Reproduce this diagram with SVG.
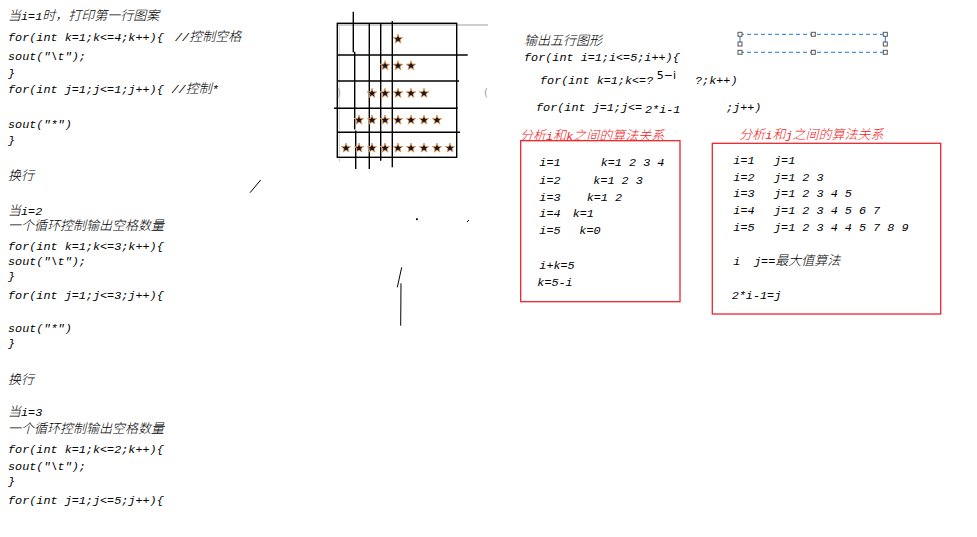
<svg xmlns="http://www.w3.org/2000/svg" width="977" height="537" viewBox="0 0 977 537">
<style>
text{font-family:"Liberation Mono","Noto Sans CJK SC",monospace;font-style:italic;font-size:11.8px;fill:#000}
.c{font-size:13px;font-weight:300}
.a{font-size:11.8px;font-weight:400}
.red{fill:#f01818}
.up{font-family:"DejaVu Sans",sans-serif;font-style:normal;font-size:11px}
.g{fill:#999;font-style:normal;font-family:"DejaVu Sans",sans-serif;font-size:10px}
.ln{stroke:#000;stroke-width:1.4;fill:none}
.box{stroke:#e8262e;stroke-width:1.3;fill:none}
.hd{fill:#fff;stroke:#555;stroke-width:1}
.mk{stroke:#000;stroke-width:1;fill:none}
</style>
<defs>
<polygon id="st" points="0,-5 1.2,-1.6 4.8,-1.5 2,0.7 3,4.1 0,2.1 -3,4.1 -2,0.7 -4.8,-1.5 -1.2,-1.6" fill="#15151f" stroke="#e8a060" stroke-width="0.9" stroke-linejoin="round"/>
</defs>
<rect width="977" height="537" fill="#fff"/>

<g id="left-notes">
<text x="8" y="19.5" class="c">当<tspan class="a">i=1</tspan>时，打印第一行图案</text>
<text x="8" y="40.5">for(int k=1;k&lt;=4;k++){</text>
<text x="175" y="40.5" class="c"><tspan class="a">//</tspan>控制空格</text>
<text x="8" y="60">sout("\t");</text>
<text x="8" y="76.5">}</text>
<text x="8" y="92.5">for(int j=1;j&lt;=1;j++){</text>
<text x="171.5" y="92.5" class="c"><tspan class="a">//</tspan>控制<tspan class="a">*</tspan></text>
<text x="8" y="128">sout("*")</text>
<text x="8" y="143.5">}</text>
<text x="8" y="180" class="c">换行</text>

<text x="8" y="214.5" class="c">当<tspan class="a">i=2</tspan></text>
<text x="8" y="229.5" class="c">一个循环控制输出空格数量</text>
<text x="8" y="250">for(int k=1;k&lt;=3;k++){</text>
<text x="8" y="265">sout("\t");</text>
<text x="8" y="280">}</text>
<text x="8" y="298.5">for(int j=1;j&lt;=3;j++){</text>
<text x="8" y="332">sout("*")</text>
<text x="8" y="347">}</text>

<text x="8" y="383.5" class="c">换行</text>
<text x="8" y="416" class="c">当<tspan class="a">i=3</tspan></text>
<text x="8" y="433" class="c">一个循环控制输出空格数量</text>
<text x="8" y="452.5">for(int k=1;k&lt;=2;k++){</text>
<text x="8" y="469.5">sout("\t");</text>
<text x="8" y="485">}</text>
<text x="8" y="503.5">for(int j=1;j&lt;=5;j++){</text>
</g>

<g id="star-grid">
<line x1="338" y1="25" x2="488" y2="25" stroke="#cfcfcf" stroke-width="2"/>
<line x1="339.3" y1="25" x2="339.3" y2="162" stroke="#d0d0d0" stroke-width="1"/>
<rect x="337.3" y="23.3" width="119.4" height="134" class="ln"/>
<line x1="337" y1="55" x2="467.7" y2="55" class="ln"/>
<line x1="337" y1="81" x2="459" y2="81" class="ln"/>
<line x1="334" y1="108.3" x2="457.7" y2="108.3" class="ln"/>
<line x1="337" y1="132.3" x2="460" y2="132.3" class="ln"/>
<line x1="353.3" y1="11.7" x2="353.3" y2="52.3" class="ln"/>
<line x1="354.7" y1="51.7" x2="354.7" y2="129.5" class="ln"/>
<line x1="355.7" y1="130.5" x2="355.7" y2="169" class="ln"/>
<line x1="369.3" y1="23.3" x2="369.3" y2="169" class="ln"/>
<line x1="380.7" y1="23.3" x2="380.7" y2="160.7" class="ln"/>
<line x1="392.3" y1="21" x2="392.3" y2="167.3" class="ln"/>
<text x="337" y="96" class="g">)</text>
<text x="484" y="96" class="g">(</text>
<use href="#st" x="398" y="39"/>
<use href="#st" x="385" y="65.7"/><use href="#st" x="398" y="65.7"/><use href="#st" x="411" y="65.7"/>
<use href="#st" x="372" y="93.3"/><use href="#st" x="385" y="93.3"/><use href="#st" x="398" y="93.3"/><use href="#st" x="411" y="93.3"/><use href="#st" x="424" y="93.3"/>
<use href="#st" x="359" y="120"/><use href="#st" x="372" y="120"/><use href="#st" x="385" y="120"/><use href="#st" x="398" y="120"/><use href="#st" x="411" y="120"/><use href="#st" x="424" y="120"/><use href="#st" x="437" y="120"/>
<use href="#st" x="346" y="148"/><use href="#st" x="359" y="148"/><use href="#st" x="372" y="148"/><use href="#st" x="385" y="148"/><use href="#st" x="398" y="148"/><use href="#st" x="411" y="148"/><use href="#st" x="424" y="148"/><use href="#st" x="437" y="148"/><use href="#st" x="450" y="148"/>
</g>

<g id="strokes">
<line x1="250" y1="192.7" x2="260.7" y2="180" class="mk"/>
<rect x="416" y="218.3" width="1.8" height="1.8" fill="#000"/>
<line x1="467" y1="222" x2="469" y2="220" class="mk"/>
<line x1="401.7" y1="267.3" x2="397.3" y2="287.3" class="mk"/>
<line x1="401" y1="283.3" x2="400.7" y2="325.7" class="mk"/>
</g>

<g id="code-right">
<text x="524" y="45" class="c">输出五行图形</text>
<text x="524" y="61">for(int i=1;i&lt;=5;i++){</text>
<text x="540" y="84">for(int k=1;k&lt;=?</text>
<text x="656.7" y="79" class="up">5−i</text>
<text x="695" y="84">?;k++)</text>
<text x="536" y="110.5">for(int j=1;j&lt;=</text>
<text x="645" y="113">2*i-1</text>
<text x="726" y="110.5">;j++)</text>
</g>

<g id="selection">
<line x1="740" y1="34.3" x2="885.3" y2="34.3" stroke="#1e7ad6" stroke-width="1" stroke-dasharray="4 3"/>
<line x1="740" y1="52.3" x2="885.3" y2="52.3" stroke="#1e7ad6" stroke-width="1" stroke-dasharray="4 3"/>
<line x1="740" y1="34.3" x2="740" y2="44" stroke="#1e7ad6" stroke-width="1"/>
<line x1="885.3" y1="34.3" x2="885.3" y2="44" stroke="#1e7ad6" stroke-width="1"/>
<rect x="738" y="32.3" width="4" height="4" class="hd"/>
<rect x="811.3" y="32.3" width="4" height="4" class="hd"/>
<rect x="883.3" y="32.3" width="4" height="4" class="hd"/>
<rect x="738" y="42" width="4" height="4" class="hd"/>
<rect x="883.3" y="42" width="4" height="4" class="hd"/>
<rect x="738" y="50.3" width="4" height="4" class="hd"/>
<rect x="811.3" y="50.3" width="4" height="4" class="hd"/>
<rect x="883.3" y="50.3" width="4" height="4" class="hd"/>
</g>

<g id="ik-box">
<text x="520" y="139.5" class="c red">分析<tspan class="a">i</tspan>和<tspan class="a">k</tspan>之间的算法关系</text>
<rect x="520.7" y="140.7" width="159.3" height="161" class="box"/>
<text x="539.3" y="166">i=1</text><text x="600.7" y="166">k=1 2 3 4</text>
<text x="539.3" y="183.5">i=2</text><text x="593.3" y="183.5">k=1 2 3</text>
<text x="539.3" y="200.5">i=3</text><text x="586.7" y="200.5">k=1 2</text>
<text x="539.3" y="217">i=4</text><text x="572.7" y="217">k=1</text>
<text x="539.3" y="233.5">i=5</text><text x="579.3" y="233.5">k=0</text>
<text x="539.3" y="268.5">i+k=5</text>
<text x="537.3" y="285.5">k=5-i</text>
</g>

<g id="ij-box">
<text x="739.3" y="138.5" class="c red">分析<tspan class="a">i</tspan>和<tspan class="a">j</tspan>之间的算法关系</text>
<rect x="712.3" y="143.3" width="228.4" height="170.7" class="box"/>
<text x="733.3" y="164">i=1</text><text x="774" y="164">j=1</text>
<text x="733.3" y="180.5">i=2</text><text x="774" y="180.5">j=1 2 3</text>
<text x="733.3" y="197">i=3</text><text x="774" y="197">j=1 2 3 4 5</text>
<text x="733.3" y="214">i=4</text><text x="774" y="214">j=1 2 3 4 5 6 7</text>
<text x="733.3" y="231">i=5</text><text x="774" y="231">j=1 2 3 4 4 5 7 8 9</text>
<text x="733.3" y="265">i</text>
<text x="754" y="265" class="c"><tspan class="a">j==</tspan>最大值算法</text>
<text x="731.7" y="298.5">2*i-1=j</text>
</g>
</svg>
